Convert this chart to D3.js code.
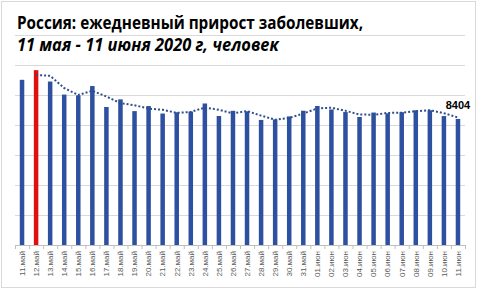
<!DOCTYPE html>
<html>
<head>
<meta charset="utf-8">
<script src="https://cdn.jsdelivr.net/npm/d3@7"></script>
<style>
  body { margin: 0; background: #fff; }
  svg { display: block; }
</style>
</head>
<body>
<div></div>
<script>
const width = 484;
const height = 292;

const dates = [
  "11.май", "12.май", "13.май", "14.май", "15.май", "16.май", "17.май", "18.май",
  "19.май", "20.май", "21.май", "22.май", "23.май", "24.май", "25.май", "26.май",
  "27.май", "28.май", "29.май", "30.май", "31.май", "01.июн", "02.июн", "03.июн",
  "04.июн", "05.июн", "06.июн", "07.июн", "08.июн", "09.июн", "10.июн", "11.июн"
];
const cases = [
  11012, 11656, 10899, 10028, 9974, 10598, 9200, 9709,
  8926, 9263, 8764, 8849, 8894, 9434, 8599, 8946,
  8915, 8338, 8371, 8572, 8952, 9268, 9035, 8863,
  8536, 8831, 8779, 8855, 8984, 8985, 8595, 8404
];
const highlight = "12.май";
const gridValues = [2000, 4000, 6000, 8000, 10000, 12000, 14000];

const svg = d3
  .select("div")
  .append("svg")
  .attr("width", width)
  .attr("height", height);

// chart frame
svg
  .append("rect")
  .attr("x", 1.5)
  .attr("y", 1.5)
  .attr("width", 474)
  .attr("height", 286)
  .attr("fill", "#fff")
  .attr("stroke", "#d9d9d9");

const xScale = d3
  .scaleBand()
  .domain(dates)
  .range([15, 465])
  .paddingInner(0.68)
  .paddingOuter(0.34);

const yScale = d3.scaleLinear().domain([0, 14000]).range([245, 35]);

// gridlines
svg
  .append("g")
  .selectAll("line")
  .data(gridValues)
  .enter()
  .append("line")
  .attr("x1", 15)
  .attr("x2", 465)
  .attr("y1", (d) => yScale(d) + 0.5)
  .attr("y2", (d) => yScale(d) + 0.5)
  .attr("stroke", "#d9d9d9");

// bars
svg
  .append("g")
  .selectAll("rect")
  .data(cases)
  .enter()
  .append("rect")
  .attr("x", (d, i) => xScale(dates[i]))
  .attr("y", (d) => yScale(d))
  .attr("width", xScale.bandwidth())
  .attr("height", (d) => yScale(0) - yScale(d))
  .attr("fill", (d, i) => (dates[i] === highlight ? "#e01010" : "#2d50a0"));

// x axis
const xAxis = d3.axisBottom(xScale).tickSize(0).tickPadding(0);
const gx = svg
  .append("g")
  .attr("transform", "translate(0," + yScale(0) + ")")
  .call(xAxis);
gx.select(".domain").attr("stroke", "#bfbfbf").attr("d", "M15,0.5H465");
gx.selectAll(".tick text")
  .attr("transform", "rotate(-90)")
  .attr("text-anchor", "end")
  .attr("x", -6)
  .attr("y", 0)
  .attr("dy", "0.35em")
  .attr("fill", "#595959")
  .style("font-family", "'Liberation Sans', Arial, sans-serif")
  .style("font-size", "8px");

// tick marks between categories
gx.selectAll(".sep")
  .data(d3.range(dates.length + 1))
  .enter()
  .append("line")
  .attr("x1", (i) => 15 + i * xScale.step() + 0.5)
  .attr("x2", (i) => 15 + i * xScale.step() + 0.5)
  .attr("y1", 0)
  .attr("y2", 4)
  .attr("stroke", "#bfbfbf");

// 2-day moving average trend
const trend = cases.slice(1).map((d, i) => ({
  date: dates[i + 1],
  value: (cases[i] + d) / 2,
}));

const line = d3
  .line()
  .x((d) => xScale(d.date) + xScale.bandwidth() / 2)
  .y((d) => yScale(d.value));

svg
  .append("path")
  .datum(trend)
  .attr("d", line)
  .attr("fill", "none")
  .attr("stroke", "#2f4f8f")
  .attr("stroke-width", 2)
  .attr("stroke-dasharray", "2 2");

// last value label
const last = dates.length - 1;
svg
  .append("text")
  .attr("x", xScale(dates[last]) + xScale.bandwidth() / 2)
  .attr("y", 109)
  .attr("text-anchor", "middle")
  .style("font-family", "'Liberation Sans', Arial, sans-serif")
  .style("font-size", "11px")
  .style("font-weight", "bold")
  .text(cases[last]);

// title
svg
  .append("text")
  .attr("x", 17)
  .attr("y", 29)
  .attr("textLength", 346)
  .attr("lengthAdjust", "spacingAndGlyphs")
  .style("font-family", "'Open Sans', sans-serif")
  .style("font-size", "17px")
  .style("font-weight", "bold")
  .text("Россия: ежедневный прирост заболевших,");

svg
  .append("text")
  .attr("x", 17)
  .attr("y", 51)
  .attr("textLength", 262)
  .attr("lengthAdjust", "spacingAndGlyphs")
  .style("font-family", "'Open Sans', sans-serif")
  .style("font-size", "17px")
  .style("font-weight", "bold")
  .style("font-style", "italic")
  .text("11 мая - 11 июня 2020 г, человек");
</script>
</body>
</html>
